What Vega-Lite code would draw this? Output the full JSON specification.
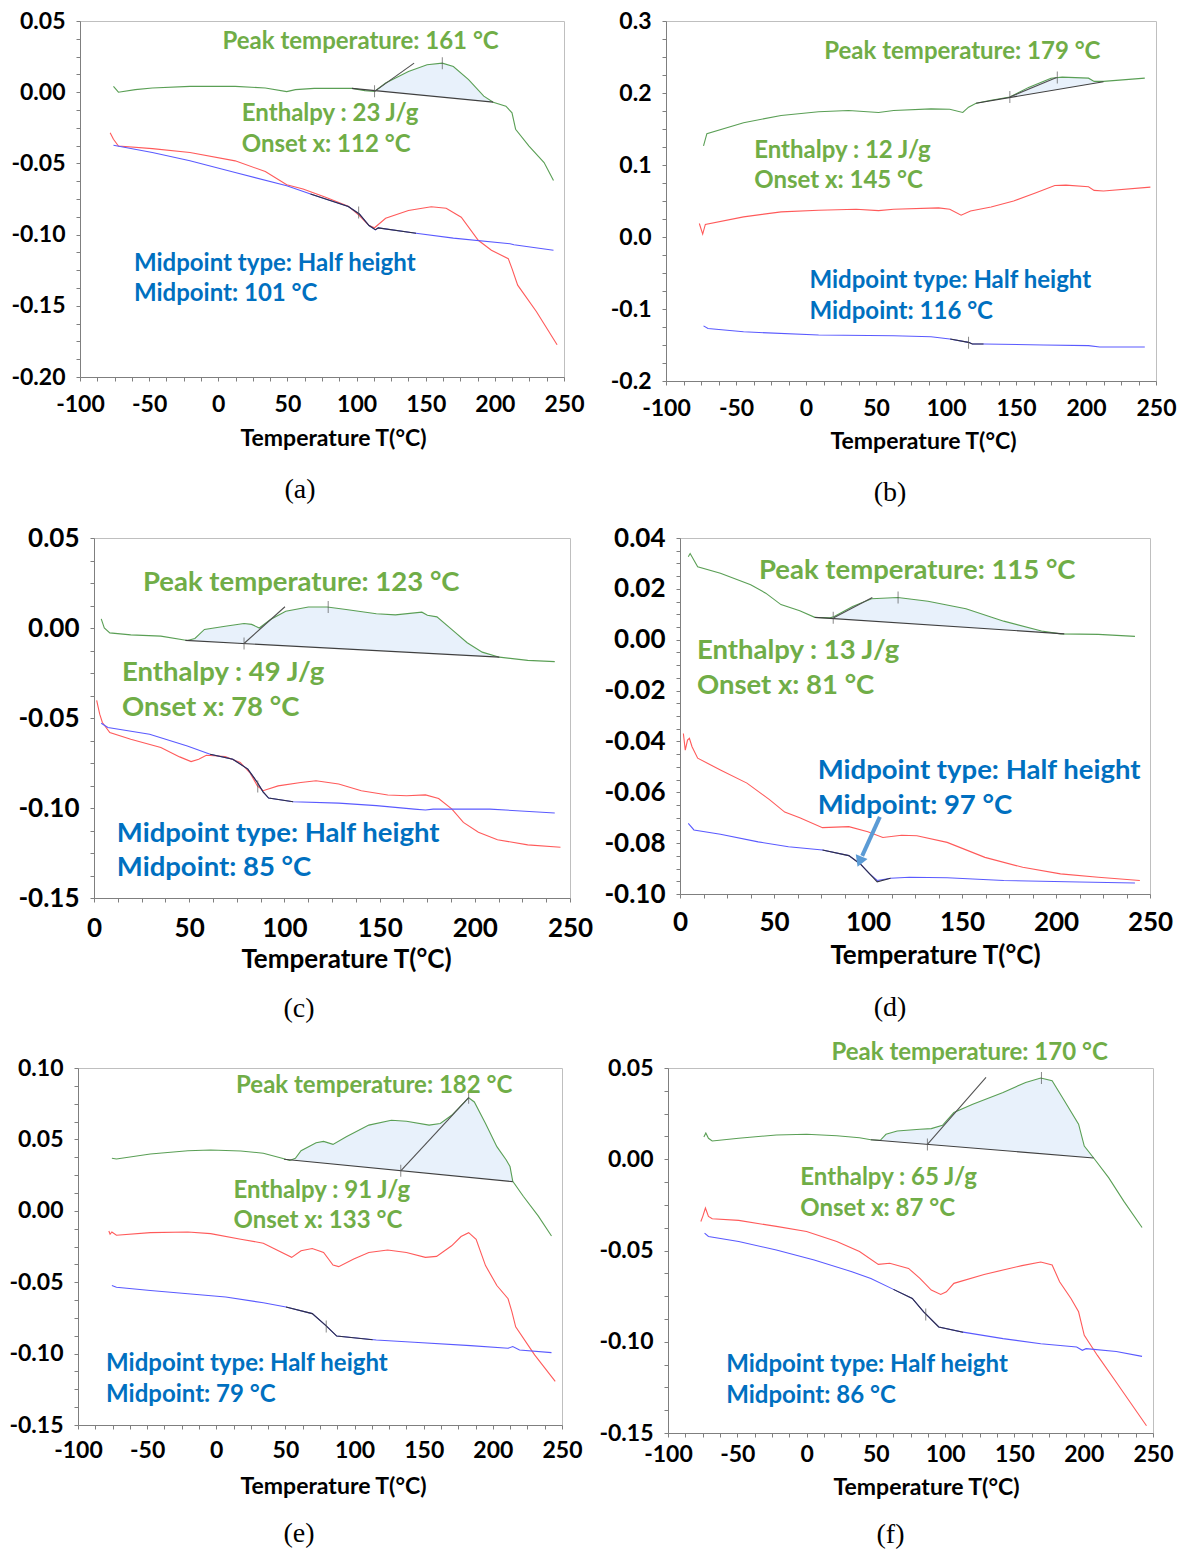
{
"$schema":"https://vega.github.io/schema/vega-lite/v6.json",
"background":"white",
"padding":{"left":-40,"top":9,"right":0,"bottom":0},
"config":{
 "view":{"stroke":"#bfbfbf","strokeWidth":1},
 "axis":{"labelFont":"Lato","labelFontWeight":"bold","labelFontSize":23,"labelColor":"#000","titleFont":"Lato","titleFontWeight":"bold","titleFontSize":23,"titleColor":"#000","grid":false,"tickColor":"#7f7f7f","tickSize":4,"domainColor":"#7f7f7f","labelOverlap":false,"labelFlush":false,"labelBound":false},
 "locale":{"number":{"decimal":".","thousands":",","grouping":[3],"currency":["",""],"minus":"-"}}
},
"datasets":{
"curves":[
{"p":"a","s":"g","T":-75.8,"v":0.0041},{"p":"a","s":"g","T":-72.2,"v":0.0},{"p":"a","s":"g","T":-60,"v":0.0018},{"p":"a","s":"g","T":-47.7,"v":0.003},{"p":"a","s":"g","T":-20.5,"v":0.0041},{"p":"a","s":"g","T":12.2,"v":0.0041},{"p":"a","s":"g","T":34,"v":0.003},{"p":"a","s":"g","T":49.5,"v":0.0004},{"p":"a","s":"g","T":55.8,"v":0.0018},{"p":"a","s":"g","T":69.4,"v":0.0027},{"p":"a","s":"g","T":96.7,"v":0.0027},{"p":"a","s":"g","T":106,"v":0.0011},{"p":"a","s":"g","T":113,"v":0.0006},{"p":"a","s":"g","T":121,"v":0.0065},{"p":"a","s":"g","T":137.5,"v":0.0146},{"p":"a","s":"g","T":151,"v":0.0193},{"p":"a","s":"g","T":162,"v":0.0204},{"p":"a","s":"g","T":170,"v":0.018},{"p":"a","s":"g","T":181,"v":0.0088},{"p":"a","s":"g","T":192,"v":-0.0028},{"p":"a","s":"g","T":198.8,"v":-0.007},{"p":"a","s":"g","T":208,"v":-0.0098},{"p":"a","s":"g","T":212.4,"v":-0.0145},{"p":"a","s":"g","T":215,"v":-0.026},{"p":"a","s":"g","T":224.7,"v":-0.0378},{"p":"a","s":"g","T":235.6,"v":-0.0494},{"p":"a","s":"g","T":242.4,"v":-0.062},
{"p":"a","s":"r","T":-78.2,"v":-0.0284},{"p":"a","s":"r","T":-75.8,"v":-0.0331},{"p":"a","s":"r","T":-72.2,"v":-0.0378},{"p":"a","s":"r","T":-47.7,"v":-0.0396},{"p":"a","s":"r","T":-20.5,"v":-0.0424},{"p":"a","s":"r","T":12.2,"v":-0.0482},{"p":"a","s":"r","T":34,"v":-0.0557},{"p":"a","s":"r","T":49.5,"v":-0.065},{"p":"a","s":"r","T":61.3,"v":-0.068},{"p":"a","s":"r","T":77.6,"v":-0.0738},{"p":"a","s":"r","T":94,"v":-0.08},{"p":"a","s":"r","T":102,"v":-0.0866},{"p":"a","s":"r","T":109,"v":-0.0936},{"p":"a","s":"r","T":113,"v":-0.0952},{"p":"a","s":"r","T":121,"v":-0.0885},{"p":"a","s":"r","T":137.5,"v":-0.0831},{"p":"a","s":"r","T":154,"v":-0.0804},{"p":"a","s":"r","T":164.8,"v":-0.0815},{"p":"a","s":"r","T":175.7,"v":-0.0878},{"p":"a","s":"r","T":188,"v":-0.104},{"p":"a","s":"r","T":197.5,"v":-0.111},{"p":"a","s":"r","T":209.7,"v":-0.1169},{"p":"a","s":"r","T":212.4,"v":-0.1239},{"p":"a","s":"r","T":216.5,"v":-0.1355},{"p":"a","s":"r","T":230,"v":-0.154},{"p":"a","s":"r","T":245,"v":-0.1774},
{"p":"a","s":"b","T":-75.8,"v":-0.0373},{"p":"a","s":"b","T":-47.7,"v":-0.0424},{"p":"a","s":"b","T":-20.5,"v":-0.0482},{"p":"a","s":"b","T":12.2,"v":-0.0564},{"p":"a","s":"b","T":49.5,"v":-0.0657},{"p":"a","s":"b","T":66.7,"v":-0.0715},{"p":"a","s":"b","T":94,"v":-0.0803},{"p":"a","s":"b","T":102,"v":-0.0855},{"p":"a","s":"b","T":109,"v":-0.0936},{"p":"a","s":"b","T":113.6,"v":-0.0967},{"p":"a","s":"b","T":115.7,"v":-0.0953},{"p":"a","s":"b","T":143,"v":-0.099},{"p":"a","s":"b","T":170,"v":-0.1025},{"p":"a","s":"b","T":211,"v":-0.1064},{"p":"a","s":"b","T":213.8,"v":-0.1071},{"p":"a","s":"b","T":242.4,"v":-0.111},
{"p":"a","s":"kb","T":96.7,"v":0.0027},{"p":"a","s":"kb","T":198.8,"v":-0.007},
{"p":"a","s":"kt","T":113,"v":0.0006},{"p":"a","s":"kt","T":141.6,"v":0.0204},
{"p":"a","s":"km","T":66.7,"v":-0.0715},{"p":"a","s":"km","T":94,"v":-0.0803},{"p":"a","s":"km","T":102,"v":-0.0855},{"p":"a","s":"km","T":109,"v":-0.0936},{"p":"a","s":"km","T":113.6,"v":-0.0965},{"p":"a","s":"km","T":115.7,"v":-0.0953},{"p":"a","s":"km","T":143,"v":-0.099},

{"p":"b","s":"g","T":-73.2,"v":0.1266},{"p":"b","s":"g","T":-70.8,"v":0.1436},{"p":"b","s":"g","T":-44.6,"v":0.1587},{"p":"b","s":"g","T":-17.8,"v":0.1688},{"p":"b","s":"g","T":9,"v":0.1739},{"p":"b","s":"g","T":30.4,"v":0.1757},{"p":"b","s":"g","T":51.8,"v":0.1729},{"p":"b","s":"g","T":62.6,"v":0.1757},{"p":"b","s":"g","T":89.3,"v":0.178},{"p":"b","s":"g","T":102.7,"v":0.1775},{"p":"b","s":"g","T":112,"v":0.1729},{"p":"b","s":"g","T":116.1,"v":0.1803},{"p":"b","s":"g","T":121.5,"v":0.1858},{"p":"b","s":"g","T":132.2,"v":0.1899},{"p":"b","s":"g","T":145.6,"v":0.1945},{"p":"b","s":"g","T":159,"v":0.2078},{"p":"b","s":"g","T":175,"v":0.2206},{"p":"b","s":"g","T":183,"v":0.222},{"p":"b","s":"g","T":201.8,"v":0.2206},{"p":"b","s":"g","T":205.8,"v":0.2161},{"p":"b","s":"g","T":212.5,"v":0.2161},{"p":"b","s":"g","T":242,"v":0.2206},
{"p":"b","s":"r","T":-76.2,"v":0.0188},{"p":"b","s":"r","T":-73.8,"v":0.0041},{"p":"b","s":"r","T":-71.9,"v":0.0174},{"p":"b","s":"r","T":-44.6,"v":0.028},{"p":"b","s":"r","T":-17.8,"v":0.0349},{"p":"b","s":"r","T":9,"v":0.0372},{"p":"b","s":"r","T":35.8,"v":0.0385},{"p":"b","s":"r","T":51.8,"v":0.0367},{"p":"b","s":"r","T":62.6,"v":0.0385},{"p":"b","s":"r","T":94.7,"v":0.0404},{"p":"b","s":"r","T":102.7,"v":0.0385},{"p":"b","s":"r","T":110.8,"v":0.0303},{"p":"b","s":"r","T":117.5,"v":0.0362},{"p":"b","s":"r","T":132.2,"v":0.0417},{"p":"b","s":"r","T":148.3,"v":0.05},{"p":"b","s":"r","T":164.3,"v":0.0615},{"p":"b","s":"r","T":177.7,"v":0.0716},{"p":"b","s":"r","T":185.7,"v":0.072},{"p":"b","s":"r","T":201.8,"v":0.0697},{"p":"b","s":"r","T":205.8,"v":0.0647},{"p":"b","s":"r","T":212.5,"v":0.0638},{"p":"b","s":"r","T":246,"v":0.0693},
{"p":"b","s":"b","T":-73.2,"v":-0.1234},{"p":"b","s":"b","T":-70,"v":-0.1271},{"p":"b","s":"b","T":-44.6,"v":-0.1317},{"p":"b","s":"b","T":9,"v":-0.1362},{"p":"b","s":"b","T":62.6,"v":-0.1372},{"p":"b","s":"b","T":89.3,"v":-0.1385},{"p":"b","s":"b","T":102.7,"v":-0.1417},{"p":"b","s":"b","T":116.1,"v":-0.1463},{"p":"b","s":"b","T":118.8,"v":-0.1486},{"p":"b","s":"b","T":126.8,"v":-0.1486},{"p":"b","s":"b","T":169.7,"v":-0.15},{"p":"b","s":"b","T":201.8,"v":-0.1509},{"p":"b","s":"b","T":209.8,"v":-0.1528},{"p":"b","s":"b","T":242,"v":-0.1528},
{"p":"b","s":"kb","T":121.5,"v":0.1858},{"p":"b","s":"kb","T":212.5,"v":0.2156},
{"p":"b","s":"kt","T":145.6,"v":0.1945},{"p":"b","s":"kt","T":179,"v":0.2216},
{"p":"b","s":"km","T":103,"v":-0.1417},{"p":"b","s":"km","T":116.1,"v":-0.1463},{"p":"b","s":"km","T":118.8,"v":-0.1486},{"p":"b","s":"km","T":126.8,"v":-0.1486},

{"p":"c","s":"g","T":3.8,"v":0.0051},{"p":"c","s":"g","T":5.4,"v":0.0},{"p":"c","s":"g","T":8.3,"v":-0.0027},{"p":"c","s":"g","T":19.3,"v":-0.0038},{"p":"c","s":"g","T":35.1,"v":-0.0045},{"p":"c","s":"g","T":49,"v":-0.0069},{"p":"c","s":"g","T":53,"v":-0.0058},{"p":"c","s":"g","T":58,"v":-0.0008},{"p":"c","s":"g","T":68.9,"v":0.001},{"p":"c","s":"g","T":78.8,"v":0.0025},{"p":"c","s":"g","T":82.8,"v":0.002},{"p":"c","s":"g","T":86.8,"v":0.0},{"p":"c","s":"g","T":92.7,"v":0.0047},{"p":"c","s":"g","T":100.7,"v":0.0093},{"p":"c","s":"g","T":112.6,"v":0.0117},{"p":"c","s":"g","T":122.5,"v":0.0117},{"p":"c","s":"g","T":132.4,"v":0.0103},{"p":"c","s":"g","T":148.3,"v":0.0079},{"p":"c","s":"g","T":158.3,"v":0.0073},{"p":"c","s":"g","T":172.2,"v":0.0088},{"p":"c","s":"g","T":175.1,"v":0.0071},{"p":"c","s":"g","T":180.1,"v":0.0062},{"p":"c","s":"g","T":188,"v":-0.0009},{"p":"c","s":"g","T":196,"v":-0.0082},{"p":"c","s":"g","T":203.9,"v":-0.0134},{"p":"c","s":"g","T":212.9,"v":-0.0162},{"p":"c","s":"g","T":227.8,"v":-0.018},{"p":"c","s":"g","T":242,"v":-0.0187},
{"p":"c","s":"r","T":1.4,"v":-0.0402},{"p":"c","s":"r","T":3,"v":-0.0479},{"p":"c","s":"r","T":4.4,"v":-0.0525},{"p":"c","s":"r","T":8.3,"v":-0.0581},{"p":"c","s":"r","T":19.3,"v":-0.0618},{"p":"c","s":"r","T":35.1,"v":-0.0664},{"p":"c","s":"r","T":45,"v":-0.0716},{"p":"c","s":"r","T":51,"v":-0.0742},{"p":"c","s":"r","T":55,"v":-0.0729},{"p":"c","s":"r","T":59,"v":-0.0707},{"p":"c","s":"r","T":68.9,"v":-0.0714},{"p":"c","s":"r","T":76.8,"v":-0.0747},{"p":"c","s":"r","T":81.8,"v":-0.0803},{"p":"c","s":"r","T":85.8,"v":-0.0877},{"p":"c","s":"r","T":88.8,"v":-0.0904},{"p":"c","s":"r","T":96.7,"v":-0.0877},{"p":"c","s":"r","T":108.6,"v":-0.0858},{"p":"c","s":"r","T":116.6,"v":-0.0849},{"p":"c","s":"r","T":128.5,"v":-0.0867},{"p":"c","s":"r","T":140.4,"v":-0.0904},{"p":"c","s":"r","T":154.3,"v":-0.0928},{"p":"c","s":"r","T":164.2,"v":-0.0932},{"p":"c","s":"r","T":174.1,"v":-0.0927},{"p":"c","s":"r","T":181,"v":-0.0947},{"p":"c","s":"r","T":188,"v":-0.1006},{"p":"c","s":"r","T":194,"v":-0.108},{"p":"c","s":"r","T":201.9,"v":-0.1135},{"p":"c","s":"r","T":211.9,"v":-0.1176},{"p":"c","s":"r","T":227.8,"v":-0.1205},{"p":"c","s":"r","T":245,"v":-0.1218},
{"p":"c","s":"b","T":3.8,"v":-0.0529},{"p":"c","s":"b","T":7.3,"v":-0.0553},{"p":"c","s":"b","T":29.2,"v":-0.059},{"p":"c","s":"b","T":49,"v":-0.0655},{"p":"c","s":"b","T":61,"v":-0.0701},{"p":"c","s":"b","T":72.9,"v":-0.0729},{"p":"c","s":"b","T":80.8,"v":-0.0784},{"p":"c","s":"b","T":85.8,"v":-0.0858},{"p":"c","s":"b","T":88.8,"v":-0.091},{"p":"c","s":"b","T":91.7,"v":-0.0945},{"p":"c","s":"b","T":104.6,"v":-0.0965},{"p":"c","s":"b","T":128.5,"v":-0.0973},{"p":"c","s":"b","T":148.3,"v":-0.0987},{"p":"c","s":"b","T":168.2,"v":-0.1006},{"p":"c","s":"b","T":174.1,"v":-0.1011},{"p":"c","s":"b","T":178.1,"v":-0.1006},{"p":"c","s":"b","T":207.9,"v":-0.1006},{"p":"c","s":"b","T":242,"v":-0.1028},
{"p":"c","s":"kb","T":48,"v":-0.0069},{"p":"c","s":"kb","T":212.9,"v":-0.0162},
{"p":"c","s":"kt","T":78.8,"v":-0.0086},{"p":"c","s":"kt","T":100.3,"v":0.0118},
{"p":"c","s":"km","T":61,"v":-0.0701},{"p":"c","s":"km","T":72.9,"v":-0.0729},{"p":"c","s":"km","T":80.8,"v":-0.0784},{"p":"c","s":"km","T":85.8,"v":-0.0858},{"p":"c","s":"km","T":88.8,"v":-0.091},{"p":"c","s":"km","T":91.7,"v":-0.0945},{"p":"c","s":"km","T":104.6,"v":-0.0965},

{"p":"d","s":"g","T":4.4,"v":0.0326},{"p":"d","s":"g","T":5.4,"v":0.0339},{"p":"d","s":"g","T":9.4,"v":0.0287},{"p":"d","s":"g","T":21.5,"v":0.0261},{"p":"d","s":"g","T":37.6,"v":0.0216},{"p":"d","s":"g","T":45.6,"v":0.0183},{"p":"d","s":"g","T":53.7,"v":0.0138},{"p":"d","s":"g","T":63.7,"v":0.0114},{"p":"d","s":"g","T":71.7,"v":0.0088},{"p":"d","s":"g","T":79.8,"v":0.0086},{"p":"d","s":"g","T":81.8,"v":0.009},{"p":"d","s":"g","T":91.8,"v":0.0131},{"p":"d","s":"g","T":101.9,"v":0.0161},{"p":"d","s":"g","T":115.9,"v":0.0166},{"p":"d","s":"g","T":131.9,"v":0.0151},{"p":"d","s":"g","T":152.1,"v":0.0122},{"p":"d","s":"g","T":172.2,"v":0.0073},{"p":"d","s":"g","T":192.3,"v":0.0034},{"p":"d","s":"g","T":202.4,"v":0.0023},{"p":"d","s":"g","T":222.5,"v":0.0021},{"p":"d","s":"g","T":242,"v":0.0013},
{"p":"d","s":"r","T":1.8,"v":-0.0369},{"p":"d","s":"r","T":2.8,"v":-0.0434},{"p":"d","s":"r","T":4,"v":-0.0395},{"p":"d","s":"r","T":5,"v":-0.0388},{"p":"d","s":"r","T":6.4,"v":-0.0421},{"p":"d","s":"r","T":9.4,"v":-0.0466},{"p":"d","s":"r","T":21.5,"v":-0.0512},{"p":"d","s":"r","T":35.6,"v":-0.0564},{"p":"d","s":"r","T":47.6,"v":-0.0629},{"p":"d","s":"r","T":55.7,"v":-0.0678},{"p":"d","s":"r","T":63.7,"v":-0.07},{"p":"d","s":"r","T":75.8,"v":-0.0739},{"p":"d","s":"r","T":89.8,"v":-0.0735},{"p":"d","s":"r","T":99.9,"v":-0.0755},{"p":"d","s":"r","T":107.9,"v":-0.0778},{"p":"d","s":"r","T":117.9,"v":-0.0769},{"p":"d","s":"r","T":126,"v":-0.0771},{"p":"d","s":"r","T":142.1,"v":-0.0797},{"p":"d","s":"r","T":162.2,"v":-0.0856},{"p":"d","s":"r","T":182.3,"v":-0.0895},{"p":"d","s":"r","T":202.4,"v":-0.0921},{"p":"d","s":"r","T":222.5,"v":-0.0934},{"p":"d","s":"r","T":244.6,"v":-0.0947},
{"p":"d","s":"b","T":4.4,"v":-0.0722},{"p":"d","s":"b","T":7.4,"v":-0.0748},{"p":"d","s":"b","T":21.5,"v":-0.0765},{"p":"d","s":"b","T":41.6,"v":-0.0795},{"p":"d","s":"b","T":57.7,"v":-0.0814},{"p":"d","s":"b","T":75.8,"v":-0.0827},{"p":"d","s":"b","T":89.8,"v":-0.0849},{"p":"d","s":"b","T":95.9,"v":-0.0882},{"p":"d","s":"b","T":100.9,"v":-0.0921},{"p":"d","s":"b","T":104.9,"v":-0.0947},{"p":"d","s":"b","T":112,"v":-0.0938},{"p":"d","s":"b","T":122,"v":-0.0934},{"p":"d","s":"b","T":142.1,"v":-0.0936},{"p":"d","s":"b","T":172.2,"v":-0.0947},{"p":"d","s":"b","T":212.4,"v":-0.0953},{"p":"d","s":"b","T":242,"v":-0.0957},
{"p":"d","s":"kb","T":71.7,"v":0.0088},{"p":"d","s":"kb","T":204.4,"v":0.0023},
{"p":"d","s":"kt","T":81.8,"v":0.0086},{"p":"d","s":"kt","T":102.3,"v":0.0166},
{"p":"d","s":"km","T":75.8,"v":-0.0827},{"p":"d","s":"km","T":89.8,"v":-0.0849},{"p":"d","s":"km","T":95.9,"v":-0.0882},{"p":"d","s":"km","T":100.9,"v":-0.0921},{"p":"d","s":"km","T":104.9,"v":-0.0952},{"p":"d","s":"km","T":112,"v":-0.0938},

{"p":"e","s":"g","T":-75.5,"v":0.0368},{"p":"e","s":"g","T":-72.2,"v":0.0363},{"p":"e","s":"g","T":-47.7,"v":0.0398},{"p":"e","s":"g","T":-20.5,"v":0.0421},{"p":"e","s":"g","T":-4.1,"v":0.0426},{"p":"e","s":"g","T":17.7,"v":0.0419},{"p":"e","s":"g","T":34,"v":0.0403},{"p":"e","s":"g","T":47.6,"v":0.0368},{"p":"e","s":"g","T":53.1,"v":0.0352},{"p":"e","s":"g","T":57.2,"v":0.0368},{"p":"e","s":"g","T":61.3,"v":0.0421},{"p":"e","s":"g","T":72.2,"v":0.0477},{"p":"e","s":"g","T":77.6,"v":0.0486},{"p":"e","s":"g","T":84.4,"v":0.0465},{"p":"e","s":"g","T":94,"v":0.0519},{"p":"e","s":"g","T":110.3,"v":0.06},{"p":"e","s":"g","T":126.6,"v":0.0634},{"p":"e","s":"g","T":137.5,"v":0.0627},{"p":"e","s":"g","T":153.9,"v":0.06},{"p":"e","s":"g","T":162,"v":0.0611},{"p":"e","s":"g","T":170.2,"v":0.0669},{"p":"e","s":"g","T":178.4,"v":0.075},{"p":"e","s":"g","T":182.5,"v":0.0792},{"p":"e","s":"g","T":186.6,"v":0.0762},{"p":"e","s":"g","T":194.7,"v":0.0611},{"p":"e","s":"g","T":202.9,"v":0.0449},{"p":"e","s":"g","T":209.7,"v":0.0356},{"p":"e","s":"g","T":212.4,"v":0.031},{"p":"e","s":"g","T":214.4,"v":0.0206},{"p":"e","s":"g","T":222,"v":0.0102},{"p":"e","s":"g","T":232.9,"v":-0.0037},{"p":"e","s":"g","T":242.4,"v":-0.0176},
{"p":"e","s":"r","T":-77.7,"v":-0.0141},{"p":"e","s":"r","T":-76.8,"v":-0.0164},{"p":"e","s":"r","T":-75.5,"v":-0.0148},{"p":"e","s":"r","T":-72.2,"v":-0.0171},{"p":"e","s":"r","T":-47.7,"v":-0.0153},{"p":"e","s":"r","T":-20.5,"v":-0.0148},{"p":"e","s":"r","T":-4.1,"v":-0.016},{"p":"e","s":"r","T":17.7,"v":-0.0199},{"p":"e","s":"r","T":34,"v":-0.0227},{"p":"e","s":"r","T":44.9,"v":-0.028},{"p":"e","s":"r","T":54.5,"v":-0.0326},{"p":"e","s":"r","T":61.3,"v":-0.028},{"p":"e","s":"r","T":69.4,"v":-0.0264},{"p":"e","s":"r","T":77.6,"v":-0.0292},{"p":"e","s":"r","T":84.4,"v":-0.038},{"p":"e","s":"r","T":88.5,"v":-0.0391},{"p":"e","s":"r","T":99.4,"v":-0.0338},{"p":"e","s":"r","T":110.3,"v":-0.0292},{"p":"e","s":"r","T":123.9,"v":-0.0275},{"p":"e","s":"r","T":137.5,"v":-0.0292},{"p":"e","s":"r","T":151.2,"v":-0.0326},{"p":"e","s":"r","T":159.3,"v":-0.0319},{"p":"e","s":"r","T":170.2,"v":-0.0245},{"p":"e","s":"r","T":177,"v":-0.018},{"p":"e","s":"r","T":182.5,"v":-0.0153},{"p":"e","s":"r","T":187.9,"v":-0.0199},{"p":"e","s":"r","T":194.7,"v":-0.0384},{"p":"e","s":"r","T":202.9,"v":-0.0523},{"p":"e","s":"r","T":211,"v":-0.0616},{"p":"e","s":"r","T":213.8,"v":-0.0708},{"p":"e","s":"r","T":216.5,"v":-0.0813},{"p":"e","s":"r","T":230.2,"v":-0.1009},{"p":"e","s":"r","T":245.1,"v":-0.1194},
{"p":"e","s":"b","T":-75.5,"v":-0.0523},{"p":"e","s":"b","T":-72.2,"v":-0.0535},{"p":"e","s":"b","T":-47.7,"v":-0.0558},{"p":"e","s":"b","T":-20.5,"v":-0.0581},{"p":"e","s":"b","T":6.8,"v":-0.0604},{"p":"e","s":"b","T":34,"v":-0.0644},{"p":"e","s":"b","T":50.4,"v":-0.0674},{"p":"e","s":"b","T":69.4,"v":-0.072},{"p":"e","s":"b","T":78.9,"v":-0.0801},{"p":"e","s":"b","T":87.1,"v":-0.0877},{"p":"e","s":"b","T":115.7,"v":-0.0905},{"p":"e","s":"b","T":143,"v":-0.0921},{"p":"e","s":"b","T":183.8,"v":-0.0944},{"p":"e","s":"b","T":211,"v":-0.0963},{"p":"e","s":"b","T":214.4,"v":-0.0951},{"p":"e","s":"b","T":219.3,"v":-0.0975},{"p":"e","s":"b","T":242.4,"v":-0.0993},
{"p":"e","s":"kb","T":49,"v":0.0361},{"p":"e","s":"kb","T":214.4,"v":0.0204},
{"p":"e","s":"kt","T":133.4,"v":0.028},{"p":"e","s":"kt","T":182.5,"v":0.0792},
{"p":"e","s":"km","T":50.4,"v":-0.0674},{"p":"e","s":"km","T":69.4,"v":-0.072},{"p":"e","s":"km","T":78.9,"v":-0.0801},{"p":"e","s":"km","T":87.1,"v":-0.0877},{"p":"e","s":"km","T":113,"v":-0.0903},

{"p":"f","s":"g","T":-74.1,"v":0.0122},{"p":"f","s":"g","T":-72.7,"v":0.0144},{"p":"f","s":"g","T":-70.8,"v":0.0115},{"p":"f","s":"g","T":-68.1,"v":0.01},{"p":"f","s":"g","T":-49,"v":0.0115},{"p":"f","s":"g","T":-21.8,"v":0.0133},{"p":"f","s":"g","T":0,"v":0.0137},{"p":"f","s":"g","T":21.8,"v":0.0129},{"p":"f","s":"g","T":38.2,"v":0.0118},{"p":"f","s":"g","T":46.4,"v":0.0107},{"p":"f","s":"g","T":53.2,"v":0.0104},{"p":"f","s":"g","T":57.3,"v":0.0137},{"p":"f","s":"g","T":65.4,"v":0.0155},{"p":"f","s":"g","T":81.8,"v":0.0164},{"p":"f","s":"g","T":90,"v":0.0168},{"p":"f","s":"g","T":98.1,"v":0.0186},{"p":"f","s":"g","T":106.3,"v":0.0256},{"p":"f","s":"g","T":119.9,"v":0.0302},{"p":"f","s":"g","T":141.8,"v":0.0366},{"p":"f","s":"g","T":158.1,"v":0.0421},{"p":"f","s":"g","T":169,"v":0.0445},{"p":"f","s":"g","T":177.2,"v":0.043},{"p":"f","s":"g","T":185.4,"v":0.0329},{"p":"f","s":"g","T":196.3,"v":0.0192},{"p":"f","s":"g","T":200.4,"v":0.0072},{"p":"f","s":"g","T":207.2,"v":0.0007},{"p":"f","s":"g","T":218.1,"v":-0.0102},{"p":"f","s":"g","T":229,"v":-0.0231},{"p":"f","s":"g","T":242.1,"v":-0.0374},
{"p":"f","s":"r","T":-76.3,"v":-0.0341},{"p":"f","s":"r","T":-74.9,"v":-0.0313},{"p":"f","s":"r","T":-73,"v":-0.0267},{"p":"f","s":"r","T":-70.8,"v":-0.0313},{"p":"f","s":"r","T":-68.1,"v":-0.0326},{"p":"f","s":"r","T":-49,"v":-0.0335},{"p":"f","s":"r","T":-21.8,"v":-0.0368},{"p":"f","s":"r","T":0,"v":-0.0396},{"p":"f","s":"r","T":21.8,"v":-0.0451},{"p":"f","s":"r","T":38.2,"v":-0.0506},{"p":"f","s":"r","T":51.8,"v":-0.0576},{"p":"f","s":"r","T":60,"v":-0.057},{"p":"f","s":"r","T":73.6,"v":-0.0598},{"p":"f","s":"r","T":81.8,"v":-0.0653},{"p":"f","s":"r","T":90,"v":-0.0717},{"p":"f","s":"r","T":96.8,"v":-0.0741},{"p":"f","s":"r","T":100.9,"v":-0.0726},{"p":"f","s":"r","T":106.3,"v":-0.068},{"p":"f","s":"r","T":128.1,"v":-0.0631},{"p":"f","s":"r","T":155.4,"v":-0.0583},{"p":"f","s":"r","T":169,"v":-0.0563},{"p":"f","s":"r","T":177.2,"v":-0.0579},{"p":"f","s":"r","T":182.6,"v":-0.0671},{"p":"f","s":"r","T":190.8,"v":-0.0763},{"p":"f","s":"r","T":196.3,"v":-0.0836},{"p":"f","s":"r","T":200.4,"v":-0.0965},{"p":"f","s":"r","T":209.9,"v":-0.1075},{"p":"f","s":"r","T":223.5,"v":-0.1222},{"p":"f","s":"r","T":245.3,"v":-0.146},
{"p":"f","s":"b","T":-73.6,"v":-0.0405},{"p":"f","s":"b","T":-70.8,"v":-0.0423},{"p":"f","s":"b","T":-49,"v":-0.0451},{"p":"f","s":"b","T":-21.8,"v":-0.0497},{"p":"f","s":"b","T":5.5,"v":-0.0552},{"p":"f","s":"b","T":32.7,"v":-0.0616},{"p":"f","s":"b","T":46.4,"v":-0.0653},{"p":"f","s":"b","T":62.7,"v":-0.0713},{"p":"f","s":"b","T":76.3,"v":-0.0763},{"p":"f","s":"b","T":84.5,"v":-0.0836},{"p":"f","s":"b","T":95.4,"v":-0.0919},{"p":"f","s":"b","T":111.8,"v":-0.0946},{"p":"f","s":"b","T":141.8,"v":-0.0983},{"p":"f","s":"b","T":169,"v":-0.1011},{"p":"f","s":"b","T":194.9,"v":-0.1029},{"p":"f","s":"b","T":199,"v":-0.1047},{"p":"f","s":"b","T":201.7,"v":-0.1038},{"p":"f","s":"b","T":223.5,"v":-0.1053},{"p":"f","s":"b","T":242.1,"v":-0.108},
{"p":"f","s":"kb","T":46.4,"v":0.0107},{"p":"f","s":"kb","T":207.2,"v":0.0007},
{"p":"f","s":"kt","T":87.2,"v":0.0081},{"p":"f","s":"kt","T":129.5,"v":0.0449},
{"p":"f","s":"km","T":62.7,"v":-0.0713},{"p":"f","s":"km","T":76.3,"v":-0.0763},{"p":"f","s":"km","T":84.5,"v":-0.0836},{"p":"f","s":"km","T":95.4,"v":-0.0919},{"p":"f","s":"km","T":113,"v":-0.0948}
],
"fills":[
{"p":"a","T":113,"v":0.0006,"v2":0.0011},{"p":"a","T":121,"v":0.0065,"v2":0.0003},{"p":"a","T":137.5,"v":0.0146,"v2":-0.0012},{"p":"a","T":151,"v":0.0193,"v2":-0.0025},{"p":"a","T":162,"v":0.0204,"v2":-0.0036},{"p":"a","T":170,"v":0.018,"v2":-0.0043},{"p":"a","T":181,"v":0.0088,"v2":-0.0054},{"p":"a","T":192,"v":-0.0028,"v2":-0.0064},{"p":"a","T":198.8,"v":-0.007,"v2":-0.007},
{"p":"b","T":145.6,"v":0.1945,"v2":0.1937},{"p":"b","T":159,"v":0.2078,"v2":0.1981},{"p":"b","T":175,"v":0.2206,"v2":0.2033},{"p":"b","T":183,"v":0.222,"v2":0.2059},{"p":"b","T":201.8,"v":0.2206,"v2":0.2121},{"p":"b","T":205.8,"v":0.2161,"v2":0.2134},{"p":"b","T":212.5,"v":0.2156,"v2":0.2156},
{"p":"c","T":49,"v":-0.0069,"v2":-0.007},{"p":"c","T":53,"v":-0.0058,"v2":-0.0072},{"p":"c","T":58,"v":-0.0008,"v2":-0.0075},{"p":"c","T":68.9,"v":0.001,"v2":-0.0081},{"p":"c","T":78.8,"v":0.0025,"v2":-0.0086},{"p":"c","T":82.8,"v":0.002,"v2":-0.0089},{"p":"c","T":86.8,"v":0.0,"v2":-0.0091},{"p":"c","T":92.7,"v":0.0047,"v2":-0.0094},{"p":"c","T":100.7,"v":0.0093,"v2":-0.0099},{"p":"c","T":112.6,"v":0.0117,"v2":-0.0105},{"p":"c","T":122.5,"v":0.0117,"v2":-0.0111},{"p":"c","T":132.4,"v":0.0103,"v2":-0.0116},{"p":"c","T":148.3,"v":0.0079,"v2":-0.0125},{"p":"c","T":158.3,"v":0.0073,"v2":-0.0131},{"p":"c","T":172.2,"v":0.0088,"v2":-0.0139},{"p":"c","T":175.1,"v":0.0071,"v2":-0.014},{"p":"c","T":180.1,"v":0.0062,"v2":-0.0143},{"p":"c","T":188,"v":-0.0009,"v2":-0.0148},{"p":"c","T":196,"v":-0.0082,"v2":-0.0152},{"p":"c","T":203.9,"v":-0.0134,"v2":-0.0157},{"p":"c","T":212.9,"v":-0.0162,"v2":-0.0162},
{"p":"d","T":81.8,"v":0.009,"v2":0.0083},{"p":"d","T":91.8,"v":0.0131,"v2":0.0078},{"p":"d","T":101.9,"v":0.0161,"v2":0.0073},{"p":"d","T":115.9,"v":0.0166,"v2":0.0066},{"p":"d","T":131.9,"v":0.0151,"v2":0.0058},{"p":"d","T":152.1,"v":0.0122,"v2":0.0048},{"p":"d","T":172.2,"v":0.0073,"v2":0.0039},{"p":"d","T":192.3,"v":0.0034,"v2":0.0029},{"p":"d","T":204.4,"v":0.0023,"v2":0.0023},
{"p":"e","T":57.2,"v":0.0368,"v2":0.0353},{"p":"e","T":61.3,"v":0.0421,"v2":0.0349},{"p":"e","T":72.2,"v":0.0477,"v2":0.0339},{"p":"e","T":77.6,"v":0.0486,"v2":0.0334},{"p":"e","T":84.4,"v":0.0465,"v2":0.0327},{"p":"e","T":94,"v":0.0519,"v2":0.0318},{"p":"e","T":110.3,"v":0.06,"v2":0.0303},{"p":"e","T":126.6,"v":0.0634,"v2":0.0287},{"p":"e","T":137.5,"v":0.0627,"v2":0.0277},{"p":"e","T":153.9,"v":0.06,"v2":0.0261},{"p":"e","T":162,"v":0.0611,"v2":0.0254},{"p":"e","T":170.2,"v":0.0669,"v2":0.0246},{"p":"e","T":178.4,"v":0.075,"v2":0.0238},{"p":"e","T":182.5,"v":0.0792,"v2":0.0234},{"p":"e","T":186.6,"v":0.0762,"v2":0.023},{"p":"e","T":194.7,"v":0.0611,"v2":0.0223},{"p":"e","T":202.9,"v":0.0449,"v2":0.0215},{"p":"e","T":209.7,"v":0.0356,"v2":0.0209},{"p":"e","T":212.4,"v":0.031,"v2":0.0206},{"p":"e","T":214.4,"v":0.0206,"v2":0.0204},
{"p":"f","T":53.2,"v":0.0104,"v2":0.0103},{"p":"f","T":57.3,"v":0.0137,"v2":0.01},{"p":"f","T":65.4,"v":0.0155,"v2":0.0095},{"p":"f","T":81.8,"v":0.0164,"v2":0.0085},{"p":"f","T":90,"v":0.0168,"v2":0.008},{"p":"f","T":98.1,"v":0.0186,"v2":0.0075},{"p":"f","T":106.3,"v":0.0256,"v2":0.007},{"p":"f","T":119.9,"v":0.0302,"v2":0.0061},{"p":"f","T":141.8,"v":0.0366,"v2":0.0048},{"p":"f","T":158.1,"v":0.0421,"v2":0.0037},{"p":"f","T":169,"v":0.0445,"v2":0.0031},{"p":"f","T":177.2,"v":0.043,"v2":0.0026},{"p":"f","T":185.4,"v":0.0329,"v2":0.0021},{"p":"f","T":196.3,"v":0.0192,"v2":0.0014},{"p":"f","T":200.4,"v":0.0072,"v2":0.0011},{"p":"f","T":207.2,"v":0.0007,"v2":0.0007}
],
"ticks":[
{"p":"a","T":113,"v":0.0006},{"p":"a","T":162,"v":0.0204},{"p":"a","T":101.5,"v":-0.0845},
{"p":"b","T":145.6,"v":0.1945},{"p":"b","T":179.5,"v":0.2216},{"p":"b","T":116.1,"v":-0.147},
{"p":"c","T":78.8,"v":-0.0086},{"p":"c","T":123,"v":0.0117},{"p":"c","T":86,"v":-0.088},
{"p":"d","T":81.5,"v":0.0086},{"p":"d","T":116,"v":0.0166},
{"p":"e","T":133.4,"v":0.028},{"p":"e","T":182.5,"v":0.0792},{"p":"e","T":79.5,"v":-0.081},
{"p":"f","T":87.2,"v":0.0081},{"p":"f","T":169.5,"v":0.0445},{"p":"f","T":86,"v":-0.085}
],
"labels":[
{"p":"a","c":"g","t":"Peak temperature: 161 °C","T":3,"v":0.0352},{"p":"a","c":"g","t":"Enthalpy : 23 J/g","T":17,"v":-0.0156},{"p":"a","c":"g","t":"Onset x: 112 °C","T":17,"v":-0.0371},{"p":"a","c":"bl","t":"Midpoint type: Half height","T":-61,"v":-0.1204},{"p":"a","c":"bl","t":"Midpoint: 101 °C","T":-61,"v":-0.1418},
{"p":"b","c":"g","t":"Peak temperature: 179 °C","T":13,"v":0.2573},{"p":"b","c":"g","t":"Enthalpy : 12 J/g","T":-37,"v":0.1197},{"p":"b","c":"g","t":"Onset x: 145 °C","T":-37,"v":0.0771},{"p":"b","c":"bl","t":"Midpoint type: Half height","T":2.5,"v":-0.0615},{"p":"b","c":"bl","t":"Midpoint: 116 °C","T":2.5,"v":-0.1041},
{"p":"c","c":"g","t":"Peak temperature: 123 °C","T":25.7,"v":0.025},{"p":"c","c":"g","t":"Enthalpy : 49 J/g","T":14.7,"v":-0.0248},{"p":"c","c":"g","t":"Onset x: 78 °C","T":14.7,"v":-0.0442},{"p":"c","c":"bl","t":"Midpoint type: Half height","T":12,"v":-0.1144},{"p":"c","c":"bl","t":"Midpoint: 85 °C","T":12,"v":-0.1333},
{"p":"d","c":"g","t":"Peak temperature: 115 °C","T":42,"v":0.027},{"p":"d","c":"g","t":"Enthalpy : 13 J/g","T":9,"v":-0.0044},{"p":"d","c":"g","t":"Onset x: 81 °C","T":9,"v":-0.0181},{"p":"d","c":"bl","t":"Midpoint type: Half height","T":73.3,"v":-0.0518},{"p":"d","c":"bl","t":"Midpoint: 97 °C","T":73.3,"v":-0.0655},
{"p":"e","c":"g","t":"Peak temperature: 182 °C","T":14.3,"v":0.0877},{"p":"e","c":"g","t":"Enthalpy : 91 J/g","T":12.5,"v":0.0137},{"p":"e","c":"g","t":"Onset x: 133 °C","T":12.5,"v":-0.0072},{"p":"e","c":"bl","t":"Midpoint type: Half height","T":-79.7,"v":-0.1074},{"p":"e","c":"bl","t":"Midpoint: 79 °C","T":-79.7,"v":-0.1287},
{"p":"f","c":"g","t":"Peak temperature: 170 °C","T":18,"v":0.0584},{"p":"f","c":"g","t":"Enthalpy : 65 J/g","T":-4.5,"v":-0.01},{"p":"f","c":"g","t":"Onset x: 87 °C","T":-4.5,"v":-0.0272},{"p":"f","c":"bl","t":"Midpoint type: Half height","T":-58,"v":-0.1129},{"p":"f","c":"bl","t":"Midpoint: 86 °C","T":-58,"v":-0.1298}
],
"arrows":[{"p":"d","T":106.3,"v":-0.0697,"T2":96.9,"v2":-0.0850}],
"heads":[{"p":"d","T":95.9,"v":-0.0866}],
"none":[]
},
"resolve":{"scale":{"x":"independent","y":"independent"}},
"spacing":16,
"vconcat":[
{"spacing":102,"bounds":"flush","resolve":{"scale":{"x":"independent","y":"independent"}},"hconcat":[
{"width":18,"height":10,"view":{"stroke":null},"data":{"name":"none"},"mark":"point"},
{"width":484,"height":356,
 "title":{"text":"(a)","orient":"bottom","anchor":"middle","font":"Liberation Serif","fontSize":28,"fontWeight":"normal","color":"#000","offset":26,"dx":-22},
 "encoding":{
  "x":{"field":"T","type":"quantitative","scale":{"domain":[-100,250],"nice":false,"zero":false},"axis":{"title":"Temperature T(°C)","values":[-100,-87.5,-75,-62.5,-50,-37.5,-25,-12.5,0,12.5,25,37.5,50,62.5,75,87.5,100,112.5,125,137.5,150,162.5,175,187.5,200,212.5,225,237.5,250],"labelExpr":"datum.value % 50 == 0 ? '' + datum.value : ''","labelPadding":12,"titlePadding":11,"titleX":253}},
  "y":{"field":"v","type":"quantitative","scale":{"domain":[-0.2,0.05],"nice":false,"zero":false},"axis":{"title":null,"values":[-0.2,-0.1875,-0.175,-0.1625,-0.15,-0.1375,-0.125,-0.1125,-0.1,-0.0875,-0.075,-0.0625,-0.05,-0.0375,-0.025,-0.0125,0,0.0125,0.025,0.0375,0.05],"labelExpr":"abs(datum.value*20-round(datum.value*20))<0.01 ? format(datum.value,'.2f') : ''","labelPadding":11}}},
 "layer":[
  {"data":{"name":"fills"},"transform":[{"filter":"datum.p=='a'"}],"mark":{"type":"area","color":"#e8f1fb","opacity":1},"encoding":{"y2":{"field":"v2"}}},
  {"data":{"name":"curves"},"transform":[{"filter":"datum.p=='a'"}],"mark":{"type":"line","strokeWidth":1.1},"encoding":{"color":{"field":"s","type":"nominal","scale":{"domain":["g","r","b","kb","kt","km"],"range":["#5a9f55","#ff5a5a","#5a5aff","#404040","#505050","#303040"]},"legend":null}}},
  {"data":{"name":"ticks"},"transform":[{"filter":"datum.p=='a'"}],"mark":{"type":"tick","orient":"vertical","size":12,"thickness":1,"color":"#555555"}},
  {"data":{"name":"labels"},"transform":[{"filter":"datum.p=='a' && datum.c=='g'"}],"mark":{"type":"text","align":"left","baseline":"middle","font":"Lato","fontWeight":"bold","fontSize":24,"color":"#70ad47"},"encoding":{"text":{"field":"t"}}},
  {"data":{"name":"labels"},"transform":[{"filter":"datum.p=='a' && datum.c=='bl'"}],"mark":{"type":"text","align":"left","baseline":"middle","font":"Lato","fontWeight":"bold","fontSize":24,"color":"#0070c0"},"encoding":{"text":{"field":"t"}}}
 ]},
{"width":490,"height":360,
 "title":{"text":"(b)","orient":"bottom","anchor":"middle","font":"Liberation Serif","fontSize":28,"fontWeight":"normal","color":"#000","offset":26,"dx":-21},
 "encoding":{
  "x":{"field":"T","type":"quantitative","scale":{"domain":[-100,250],"nice":false,"zero":false},"axis":{"title":"Temperature T(°C)","values":[-100,-87.5,-75,-62.5,-50,-37.5,-25,-12.5,0,12.5,25,37.5,50,62.5,75,87.5,100,112.5,125,137.5,150,162.5,175,187.5,200,212.5,225,237.5,250],"labelExpr":"datum.value % 50 == 0 ? '' + datum.value : ''","labelPadding":12,"titlePadding":10,"titleX":257}},
  "y":{"field":"v","type":"quantitative","scale":{"domain":[-0.2,0.3],"nice":false,"zero":false},"axis":{"title":null,"values":[-0.2,-0.175,-0.15,-0.125,-0.1,-0.075,-0.05,-0.025,0,0.025,0.05,0.075,0.1,0.125,0.15,0.175,0.2,0.225,0.25,0.275,0.3],"labelExpr":"abs(datum.value*10-round(datum.value*10))<0.01 ? format(datum.value,'.1f') : ''","labelPadding":11}}},
 "layer":[
  {"data":{"name":"fills"},"transform":[{"filter":"datum.p=='b'"}],"mark":{"type":"area","color":"#e8f1fb","opacity":1},"encoding":{"y2":{"field":"v2"}}},
  {"data":{"name":"curves"},"transform":[{"filter":"datum.p=='b'"}],"mark":{"type":"line","strokeWidth":1.1},"encoding":{"color":{"field":"s","type":"nominal","scale":{"domain":["g","r","b","kb","kt","km"],"range":["#5a9f55","#ff5a5a","#5a5aff","#404040","#505050","#303040"]},"legend":null}}},
  {"data":{"name":"ticks"},"transform":[{"filter":"datum.p=='b'"}],"mark":{"type":"tick","orient":"vertical","size":12,"thickness":1,"color":"#555555"}},
  {"data":{"name":"labels"},"transform":[{"filter":"datum.p=='b' && datum.c=='g'"}],"mark":{"type":"text","align":"left","baseline":"middle","font":"Lato","fontWeight":"bold","fontSize":24,"color":"#70ad47"},"encoding":{"text":{"field":"t"}}},
  {"data":{"name":"labels"},"transform":[{"filter":"datum.p=='b' && datum.c=='bl'"}],"mark":{"type":"text","align":"left","baseline":"middle","font":"Lato","fontWeight":"bold","fontSize":24,"color":"#0070c0"},"encoding":{"text":{"field":"t"}}}
 ]}
]},
{"spacing":110,"bounds":"flush","resolve":{"scale":{"x":"independent","y":"independent"}},"hconcat":[
{"width":24,"height":10,"view":{"stroke":null},"data":{"name":"none"},"mark":"point"},
{"width":476,"height":360,
 "title":{"text":"(c)","orient":"bottom","anchor":"middle","font":"Liberation Serif","fontSize":28,"fontWeight":"normal","color":"#000","offset":23,"dx":-33},
 "encoding":{
  "x":{"field":"T","type":"quantitative","scale":{"domain":[0,250],"nice":false,"zero":false},"axis":{"title":"Temperature T(°C)","values":[0,12.5,25,37.5,50,62.5,75,87.5,100,112.5,125,137.5,150,162.5,175,187.5,200,212.5,225,237.5,250],"labelExpr":"datum.value % 50 == 0 ? '' + datum.value : ''","labelPadding":13,"titlePadding":5,"labelFontSize":26,"titleFontSize":26,"titleX":252}},
  "y":{"field":"v","type":"quantitative","scale":{"domain":[-0.15,0.05],"nice":false,"zero":false},"axis":{"title":null,"values":[-0.15,-0.1375,-0.125,-0.1125,-0.1,-0.0875,-0.075,-0.0625,-0.05,-0.0375,-0.025,-0.0125,0,0.0125,0.025,0.0375,0.05],"labelExpr":"abs(datum.value*20-round(datum.value*20))<0.01 ? format(datum.value,'.2f') : ''","labelPadding":11,"labelFontSize":26}}},
 "layer":[
  {"data":{"name":"fills"},"transform":[{"filter":"datum.p=='c'"}],"mark":{"type":"area","color":"#e8f1fb","opacity":1},"encoding":{"y2":{"field":"v2"}}},
  {"data":{"name":"curves"},"transform":[{"filter":"datum.p=='c'"}],"mark":{"type":"line","strokeWidth":1.1},"encoding":{"color":{"field":"s","type":"nominal","scale":{"domain":["g","r","b","kb","kt","km"],"range":["#5a9f55","#ff5a5a","#5a5aff","#404040","#505050","#303040"]},"legend":null}}},
  {"data":{"name":"ticks"},"transform":[{"filter":"datum.p=='c'"}],"mark":{"type":"tick","orient":"vertical","size":12,"thickness":1,"color":"#555555"}},
  {"data":{"name":"labels"},"transform":[{"filter":"datum.p=='c' && datum.c=='g'"}],"mark":{"type":"text","align":"left","baseline":"middle","font":"Lato","fontWeight":"bold","fontSize":27.5,"color":"#70ad47"},"encoding":{"text":{"field":"t"}}},
  {"data":{"name":"labels"},"transform":[{"filter":"datum.p=='c' && datum.c=='bl'"}],"mark":{"type":"text","align":"left","baseline":"middle","font":"Lato","fontWeight":"bold","fontSize":27.5,"color":"#0070c0"},"encoding":{"text":{"field":"t"}}}
 ]},
{"width":470,"height":356,
 "title":{"text":"(d)","orient":"bottom","anchor":"middle","font":"Liberation Serif","fontSize":28,"fontWeight":"normal","color":"#000","offset":26,"dx":-25},
 "encoding":{
  "x":{"field":"T","type":"quantitative","scale":{"domain":[0,250],"nice":false,"zero":false},"axis":{"title":"Temperature T(°C)","values":[0,12.5,25,37.5,50,62.5,75,87.5,100,112.5,125,137.5,150,162.5,175,187.5,200,212.5,225,237.5,250],"labelExpr":"datum.value % 50 == 0 ? '' + datum.value : ''","labelPadding":11,"titlePadding":7,"labelFontSize":26,"titleFontSize":26,"titleX":255}},
  "y":{"field":"v","type":"quantitative","scale":{"domain":[-0.1,0.04],"nice":false,"zero":false},"axis":{"title":null,"values":[-0.1,-0.095,-0.09,-0.085,-0.08,-0.075,-0.07,-0.065,-0.06,-0.055,-0.05,-0.045,-0.04,-0.035,-0.03,-0.025,-0.02,-0.015,-0.01,-0.005,0,0.005,0.01,0.015,0.02,0.025,0.03,0.035,0.04],"labelExpr":"abs(datum.value*50-round(datum.value*50))<0.01 ? format(datum.value,'.2f') : ''","labelPadding":11,"labelFontSize":26}}},
 "layer":[
  {"data":{"name":"fills"},"transform":[{"filter":"datum.p=='d'"}],"mark":{"type":"area","color":"#e8f1fb","opacity":1},"encoding":{"y2":{"field":"v2"}}},
  {"data":{"name":"curves"},"transform":[{"filter":"datum.p=='d'"}],"mark":{"type":"line","strokeWidth":1.1},"encoding":{"color":{"field":"s","type":"nominal","scale":{"domain":["g","r","b","kb","kt","km"],"range":["#5a9f55","#ff5a5a","#5a5aff","#404040","#505050","#303040"]},"legend":null}}},
  {"data":{"name":"ticks"},"transform":[{"filter":"datum.p=='d'"}],"mark":{"type":"tick","orient":"vertical","size":12,"thickness":1,"color":"#555555"}},
  {"data":{"name":"arrows"},"transform":[{"filter":"datum.p=='d'"}],"mark":{"type":"rule","strokeWidth":4,"color":"#5b9bd5"},"encoding":{"x2":{"field":"T2"},"y2":{"field":"v2"}}},
  {"data":{"name":"heads"},"transform":[{"filter":"datum.p=='d'"}],"mark":{"type":"point","shape":"triangle","filled":true,"size":160,"angle":202,"color":"#5b9bd5","opacity":1}},
  {"data":{"name":"labels"},"transform":[{"filter":"datum.p=='d' && datum.c=='g'"}],"mark":{"type":"text","align":"left","baseline":"middle","font":"Lato","fontWeight":"bold","fontSize":27.5,"color":"#70ad47"},"encoding":{"text":{"field":"t"}}},
  {"data":{"name":"labels"},"transform":[{"filter":"datum.p=='d' && datum.c=='bl'"}],"mark":{"type":"text","align":"left","baseline":"middle","font":"Lato","fontWeight":"bold","fontSize":27.5,"color":"#0070c0"},"encoding":{"text":{"field":"t"}}}
 ]}
]},
{"spacing":106,"bounds":"flush","resolve":{"scale":{"x":"independent","y":"independent"}},"hconcat":[
{"width":12,"height":10,"view":{"stroke":null},"data":{"name":"none"},"mark":"point"},
{"width":484,"height":357,
 "title":{"text":"(e)","orient":"bottom","anchor":"middle","font":"Liberation Serif","fontSize":28,"fontWeight":"normal","color":"#000","offset":22,"dx":-21},
 "encoding":{
  "x":{"field":"T","type":"quantitative","scale":{"domain":[-100,250],"nice":false,"zero":false},"axis":{"title":"Temperature T(°C)","values":[-100,-87.5,-75,-62.5,-50,-37.5,-25,-12.5,0,12.5,25,37.5,50,62.5,75,87.5,100,112.5,125,137.5,150,162.5,175,187.5,200,212.5,225,237.5,250],"labelExpr":"datum.value % 50 == 0 ? '' + datum.value : ''","labelPadding":10,"titlePadding":13,"titleX":255}},
  "y":{"field":"v","type":"quantitative","scale":{"domain":[-0.15,0.1],"nice":false,"zero":false},"axis":{"title":null,"values":[-0.15,-0.1375,-0.125,-0.1125,-0.1,-0.0875,-0.075,-0.0625,-0.05,-0.0375,-0.025,-0.0125,0,0.0125,0.025,0.0375,0.05,0.0625,0.075,0.0875,0.1],"labelExpr":"abs(datum.value*20-round(datum.value*20))<0.01 ? format(datum.value,'.2f') : ''","labelPadding":11}}},
 "layer":[
  {"data":{"name":"fills"},"transform":[{"filter":"datum.p=='e'"}],"mark":{"type":"area","color":"#e8f1fb","opacity":1},"encoding":{"y2":{"field":"v2"}}},
  {"data":{"name":"curves"},"transform":[{"filter":"datum.p=='e'"}],"mark":{"type":"line","strokeWidth":1.1},"encoding":{"color":{"field":"s","type":"nominal","scale":{"domain":["g","r","b","kb","kt","km"],"range":["#5a9f55","#ff5a5a","#5a5aff","#404040","#505050","#303040"]},"legend":null}}},
  {"data":{"name":"ticks"},"transform":[{"filter":"datum.p=='e'"}],"mark":{"type":"tick","orient":"vertical","size":12,"thickness":1,"color":"#555555"}},
  {"data":{"name":"labels"},"transform":[{"filter":"datum.p=='e' && datum.c=='g'"}],"mark":{"type":"text","align":"left","baseline":"middle","font":"Lato","fontWeight":"bold","fontSize":24,"color":"#70ad47"},"encoding":{"text":{"field":"t"}}},
  {"data":{"name":"labels"},"transform":[{"filter":"datum.p=='e' && datum.c=='bl'"}],"mark":{"type":"text","align":"left","baseline":"middle","font":"Lato","fontWeight":"bold","fontSize":24,"color":"#0070c0"},"encoding":{"text":{"field":"t"}}}
 ]},
{"width":485,"height":365,
 "title":{"text":"(f)","orient":"bottom","anchor":"middle","font":"Liberation Serif","fontSize":28,"fontWeight":"normal","color":"#000","offset":22,"dx":-20},
 "encoding":{
  "x":{"field":"T","type":"quantitative","scale":{"domain":[-100,250],"nice":false,"zero":false},"axis":{"title":"Temperature T(°C)","values":[-100,-87.5,-75,-62.5,-50,-37.5,-25,-12.5,0,12.5,25,37.5,50,62.5,75,87.5,100,112.5,125,137.5,150,162.5,175,187.5,200,212.5,225,237.5,250],"labelExpr":"datum.value % 50 == 0 ? '' + datum.value : ''","labelPadding":6,"titlePadding":10,"titleX":258}},
  "y":{"field":"v","type":"quantitative","scale":{"domain":[-0.15,0.05],"nice":false,"zero":false},"axis":{"title":null,"values":[-0.15,-0.1375,-0.125,-0.1125,-0.1,-0.0875,-0.075,-0.0625,-0.05,-0.0375,-0.025,-0.0125,0,0.0125,0.025,0.0375,0.05],"labelExpr":"abs(datum.value*20-round(datum.value*20))<0.01 ? format(datum.value,'.2f') : ''","labelPadding":11}}},
 "layer":[
  {"data":{"name":"fills"},"transform":[{"filter":"datum.p=='f'"}],"mark":{"type":"area","color":"#e8f1fb","opacity":1},"encoding":{"y2":{"field":"v2"}}},
  {"data":{"name":"curves"},"transform":[{"filter":"datum.p=='f'"}],"mark":{"type":"line","strokeWidth":1.1},"encoding":{"color":{"field":"s","type":"nominal","scale":{"domain":["g","r","b","kb","kt","km"],"range":["#5a9f55","#ff5a5a","#5a5aff","#404040","#505050","#303040"]},"legend":null}}},
  {"data":{"name":"ticks"},"transform":[{"filter":"datum.p=='f'"}],"mark":{"type":"tick","orient":"vertical","size":12,"thickness":1,"color":"#555555"}},
  {"data":{"name":"labels"},"transform":[{"filter":"datum.p=='f' && datum.c=='g'"}],"mark":{"type":"text","align":"left","baseline":"middle","font":"Lato","fontWeight":"bold","fontSize":24,"color":"#70ad47"},"encoding":{"text":{"field":"t"}}},
  {"data":{"name":"labels"},"transform":[{"filter":"datum.p=='f' && datum.c=='bl'"}],"mark":{"type":"text","align":"left","baseline":"middle","font":"Lato","fontWeight":"bold","fontSize":24,"color":"#0070c0"},"encoding":{"text":{"field":"t"}}}
 ]}
]}
]
}
